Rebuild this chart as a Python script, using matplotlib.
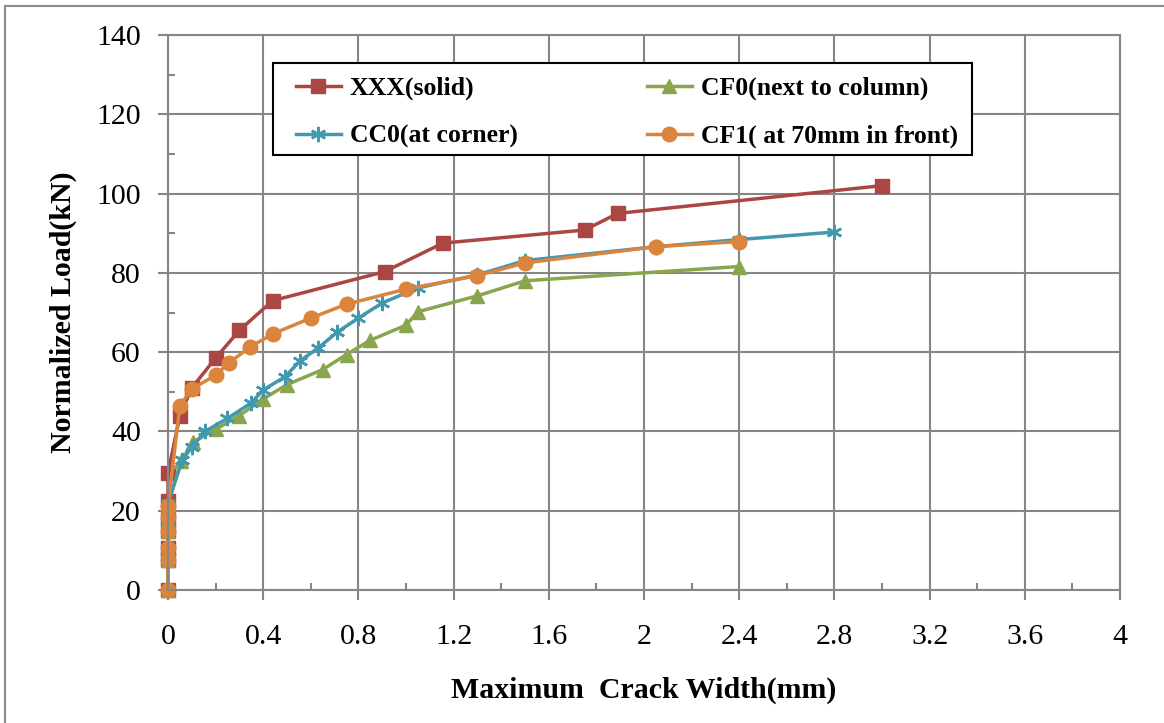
import matplotlib.pyplot as plt
from matplotlib.patches import Rectangle
from matplotlib.ticker import MultipleLocator

plt.rcParams['font.family'] = ['Liberation Serif', 'DejaVu Serif']

# --- Datos: ancho máximo de fisura (mm) vs carga normalizada (kN) ---
xxx_w = [0, 0, 0, 0, 0, 0, 0, 0.05, 0.1, 0.2, 0.3, 0.44, 0.91, 1.155, 1.75, 1.89, 3.0]
xxx_p = [0, 7.5, 10.5, 15, 18, 22.5, 29.5, 44, 51, 58.5, 65.5, 73, 80.3, 87.5, 90.8, 95, 102]

cf0_w = [0, 0, 0, 0, 0, 0, 0.055, 0.105, 0.2, 0.3, 0.4, 0.5, 0.65, 0.75, 0.85, 1.0, 1.05, 1.3, 1.5, 2.4]
cf0_p = [0, 7.5, 10.5, 15, 18, 21.5, 32.5, 37.3, 40.5, 44, 48.2, 51.8, 55.6, 59.4, 63, 66.8, 70.2, 74.2, 78, 81.6]

cc0_w = [0, 0, 0, 0, 0, 0, 0.06, 0.1, 0.155, 0.25, 0.35, 0.4, 0.49, 0.555, 0.63, 0.71, 0.8, 0.9,
         1.05, 1.3, 1.5, 2.05, 2.4, 2.8]
cc0_p = [0, 7.5, 10.5, 15, 18, 22, 32.8, 36, 40, 43.3, 47.2, 50.5, 53.7, 57.8, 61, 65, 68.6, 72.4,
         76.2, 79.5, 83.1, 86.6, 88.4, 90.3]

cf1_w = [0, 0, 0, 0, 0, 0, 0.05, 0.1, 0.2, 0.256, 0.345, 0.44, 0.6, 0.75, 1.0, 1.3, 1.5, 2.05, 2.4]
cf1_p = [0, 7.5, 10.5, 15, 18.3, 21.2, 46.5, 50.7, 54.2, 57.3, 61.3, 64.6, 68.6, 72.1, 75.9, 79.3, 82.5, 86.6, 87.9]

labels = ['XXX(solid)', 'CF0(next to column)', 'CC0(at corner)', 'CF1( at 70mm in front)']
colors = ['#AA4643', '#89A54E', '#4198AF', '#DB843D']

x_ticks = [0, 0.4, 0.8, 1.2, 1.6, 2.0, 2.4, 2.8, 3.2, 3.6, 4.0]
x_tick_labels = ['0', '0.4', '0.8', '1.2', '1.6', '2', '2.4', '2.8', '3.2', '3.6', '4']
y_ticks = [0, 20, 40, 60, 80, 100, 120, 140]

fig = plt.figure(figsize=(11.64, 7.23), dpi=100)
ax = fig.add_axes([168 / 1164, 1 - 590 / 723, 952 / 1164, 555 / 723])

# marco gris de la figura
fig.patches.append(Rectangle((5 / 1164, -0.01), 1.1, 1 - 6 / 723 + 0.01, transform=fig.transFigure,
                             fill=False, edgecolor='#8c8c8c', linewidth=1.5))

lw = 2.5
star = (6, 2, 0)  # asterisco de 6 brazos
h_xxx, = ax.plot(xxx_w, xxx_p, color=colors[0], lw=lw, marker='s', ms=10, label=labels[0], clip_on=False)
h_cf0, = ax.plot(cf0_w, cf0_p, color=colors[1], lw=lw, marker='^', ms=10, label=labels[1], clip_on=False)
h_cc0, = ax.plot(cc0_w, cc0_p, color=colors[2], lw=lw, marker=star, ms=11, mew=1.8, label=labels[2], clip_on=False)
h_cf1, = ax.plot(cf1_w, cf1_p, color=colors[3], lw=lw, marker='o', ms=10.5, label=labels[3], clip_on=False)

ax.set_xlim(0, 4)
ax.set_ylim(0, 140)
ax.set_xticks(x_ticks, x_tick_labels)
ax.set_yticks(y_ticks)
ax.xaxis.set_minor_locator(MultipleLocator(0.2))
ax.yaxis.set_minor_locator(MultipleLocator(10))

grey = '#868686'
ax.grid(True, which='major', color=grey, linewidth=1.5)
ax.set_axisbelow(True)
for s in ax.spines.values():
    s.set_color(grey)
    s.set_linewidth(1.5)
ax.tick_params(which='major', direction='out', length=7.5, width=1.5, color=grey,
               labelsize=21.5, pad=12)
ax.tick_params(axis='x', which='major', pad=17)
ax.tick_params(which='minor', direction='in', length=5, width=1.5, color=grey)

ax.set_xlabel('Maximum  Crack Width(mm)', fontsize=21.5, fontweight='bold', labelpad=19)
ax.set_ylabel('Normalized Load(kN)', fontsize=21.5, fontweight='bold', labelpad=14)

# recuadro de la leyenda (más margen lateral que el de matplotlib)
ax.add_patch(Rectangle((105 / 952, 435 / 555), 699 / 952, 92 / 555, transform=ax.transAxes,
                       facecolor='white', edgecolor='black', linewidth=1.5, zorder=4, clip_on=False))
leg = ax.legend(handles=[h_xxx, h_cc0, h_cf0, h_cf1], ncol=2, mode='expand',
                loc='upper left', bbox_to_anchor=(128 / 952, 440 / 555, 662 / 952, 73 / 555),
                borderaxespad=0, prop={'size': 18.5, 'weight': 'bold'}, frameon=False,
                handlelength=1.75, borderpad=0, labelspacing=0.95, handletextpad=0.35,
                columnspacing=1.0)
leg.set_zorder(5)

fig.savefig('out.png', dpi=100)
